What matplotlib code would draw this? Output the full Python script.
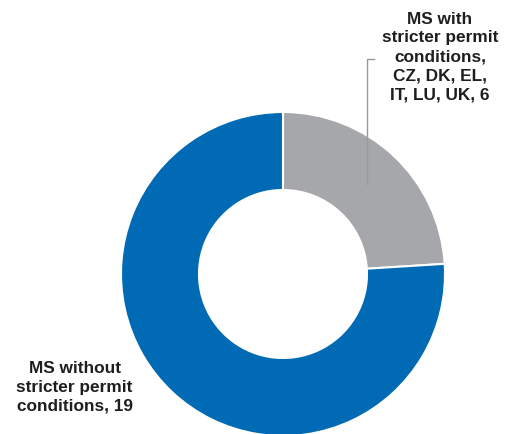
import matplotlib
matplotlib.use("Agg")
import matplotlib.pyplot as plt

categories = ["MS with\nstricter permit\nconditions,\nCZ, DK, EL,\nIT, LU, UK", "MS without\nstricter permit\nconditions"]
values = [6, 19]
colors = ["#A6A7AA", "#006AB4"]

W, H = 507, 435
fig = plt.figure(figsize=(W / 100, H / 100), dpi=100)
ax = fig.add_axes([0, 0, 1, 1])

cx, cy = 283, H - 275
r_out, r_in = 162, 84

ax.pie(values, colors=colors, startangle=90, counterclock=False,
       center=(cx, cy), radius=r_out, frame=True,
       wedgeprops=dict(width=r_out - r_in, edgecolor="white", linewidth=1.5))
ax.set_xlim(0, W)
ax.set_ylim(0, H)
ax.set_aspect("equal")
ax.axis("off")

font = dict(family="Liberation Sans", weight="bold", size=12.4, color="#1E1E1E",
            ha="center", linespacing=1.33)

ax.text(440, H - 11.5, f"{categories[0]}, {values[0]}", va="top", **font)
ax.text(74.5, H - 361, f"{categories[1]}, {values[1]}", va="top", **font)

# leader line from the label down into the grey wedge
ax.plot([374, 367, 367], [H - 60, H - 60, H - 185], color="#9A9A9A", lw=1)

fig.savefig("out.png", dpi=100)
